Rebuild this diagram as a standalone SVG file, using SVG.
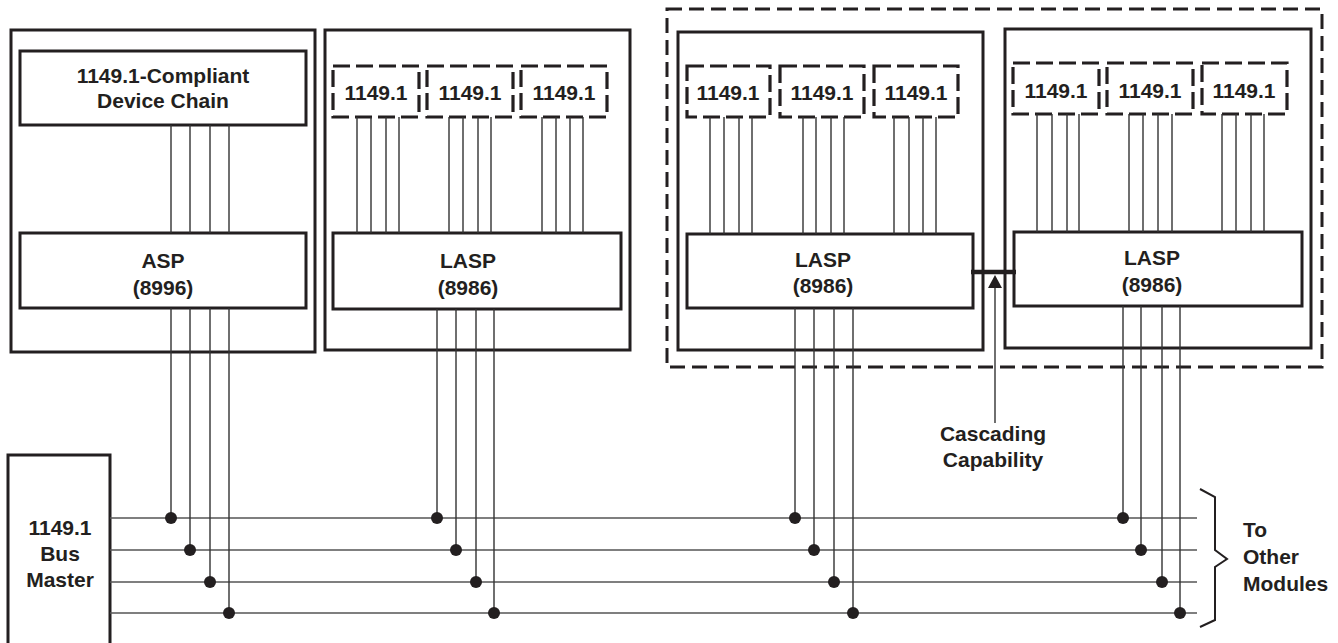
<svg xmlns="http://www.w3.org/2000/svg" width="1338" height="643" viewBox="0 0 1338 643">
<style>
.box{fill:none;stroke:#231f20;stroke-width:3}
.ibox{fill:#fff;stroke:#231f20;stroke-width:3}
.dbox{fill:none;stroke:#231f20;stroke-width:3.2;stroke-dasharray:17 6}
.odash{fill:none;stroke:#231f20;stroke-width:3;stroke-dasharray:15 7}
.w{stroke:#333;stroke-width:1.4;fill:none}
.bus{stroke:#555;stroke-width:1.6;fill:none}
.dot{fill:#231f20}
text{font-family:"Liberation Sans",Arial,sans-serif;font-weight:bold;font-size:21px;fill:#231f20;text-anchor:middle}
.l{text-anchor:start}
</style>
<rect width="1338" height="643" fill="#fff"/>

<g id="cascade-group">
<rect class="odash" x="667" y="9" width="655" height="358"/>
</g>

<g id="module1">
<rect class="box" x="11" y="30" width="304" height="322"/>
<g id="device-chain">
<rect class="ibox" x="20" y="51" width="286" height="74"/>
<text x="163" y="83">1149.1-Compliant</text>
<text x="163" y="108">Device Chain</text>
</g>
<g id="asp">
<rect class="ibox" x="20" y="233" width="286" height="75"/>
<text x="163" y="268">ASP</text>
<text x="163" y="295">(8996)</text>
</g>
</g>

<g id="module2">
<rect class="box" x="325" y="30" width="305" height="320"/>
<g id="m2-d1"><rect class="dbox" x="333" y="66" width="86" height="51"/><text x="376" y="100">1149.1</text></g>
<g id="m2-d2"><rect class="dbox" x="427" y="66" width="86" height="51"/><text x="470" y="100">1149.1</text></g>
<g id="m2-d3"><rect class="dbox" x="521" y="66" width="86" height="51"/><text x="564" y="100">1149.1</text></g>
<g id="m2-lasp">
<rect class="ibox" x="333" y="233" width="288" height="76"/>
<text x="468" y="268">LASP</text>
<text x="468" y="295">(8986)</text>
</g>
</g>

<g id="module3">
<rect class="box" x="678" y="32" width="305" height="318"/>
<g id="m3-d1"><rect class="dbox" x="687" y="66" width="83" height="51"/><text x="728" y="100">1149.1</text></g>
<g id="m3-d2"><rect class="dbox" x="780" y="66" width="84" height="51"/><text x="822" y="100">1149.1</text></g>
<g id="m3-d3"><rect class="dbox" x="874" y="66" width="84" height="51"/><text x="916" y="100">1149.1</text></g>
<g id="m3-lasp">
<rect class="ibox" x="687" y="234" width="286" height="74"/>
<text x="823" y="267">LASP</text>
<text x="823" y="293">(8986)</text>
</g>
</g>

<g id="module4">
<rect class="box" x="1005" y="29" width="306" height="319"/>
<g id="m4-d1"><rect class="dbox" x="1013" y="63" width="86" height="51"/><text x="1056" y="98">1149.1</text></g>
<g id="m4-d2"><rect class="dbox" x="1107" y="63" width="86" height="51"/><text x="1150" y="98">1149.1</text></g>
<g id="m4-d3"><rect class="dbox" x="1202" y="63" width="85" height="51"/><text x="1244" y="98">1149.1</text></g>
<g id="m4-lasp">
<rect class="ibox" x="1014" y="232" width="288" height="74"/>
<text x="1152" y="265">LASP</text>
<text x="1152" y="292">(8986)</text>
</g>
</g>

<g id="bus-master">
<path class="box" d="M8,650 V455 H110 V650"/>
<text x="60" y="535">1149.1</text>
<text x="60" y="561">Bus</text>
<text x="60" y="587">Master</text>
</g>

<g id="cascading-label">
<text x="993" y="441">Cascading</text>
<text x="993" y="467">Capability</text>
</g>

<g id="other-modules">
<path d="M1200,489 L1215,497 V550 L1227,559 L1215,567 V620 L1200,627" fill="none" stroke="#231f20" stroke-width="2"/>
<text class="l" x="1243" y="537">To</text>
<text class="l" x="1243" y="564">Other</text>
<text class="l" x="1243" y="591">Modules</text>
</g>

<g id="connectors">
<path class="w" d="M171,125V233M190,125V233M210,125V233M229,125V233"/>
<path class="w" d="M357,117V233M371,117V233M386,117V233M399,117V233M449,117V233M463,117V233M478,117V233M491,117V233M542,117V233M556,117V233M570,117V233M583,117V233"/>
<path class="w" d="M710,117V234M724,117V234M739,117V234M752,117V234M803,117V234M816,117V234M831,117V234M844,117V234M894,117V234M909,117V234M923,117V234M936,117V234"/>
<path class="w" d="M1037,114V232M1052,114V232M1067,114V232M1079,114V232M1129,114V232M1143,114V232M1158,114V232M1172,114V232M1222,114V232M1236,114V232M1251,114V232M1264,114V232"/>
<path class="bus" d="M110,518H1197M110,550H1197M110,582H1197M110,613H1197"/>
<path class="w" d="M171,308V518M190,308V550M210,308V582M229,308V613"/>
<path class="w" d="M437,309V518M456,309V550M476,309V582M494,309V613"/>
<path class="w" d="M795,308V518M814,308V550M834,308V582M853,308V613"/>
<path class="w" d="M1123,306V518M1141,306V550M1162,306V582M1180,306V613"/>
<g class="dot">
<circle cx="171" cy="518" r="6"/><circle cx="190" cy="550" r="6"/><circle cx="210" cy="582" r="6"/><circle cx="229" cy="613" r="6"/>
<circle cx="437" cy="518" r="6"/><circle cx="456" cy="550" r="6"/><circle cx="476" cy="582" r="6"/><circle cx="494" cy="613" r="6"/>
<circle cx="795" cy="518" r="6"/><circle cx="814" cy="550" r="6"/><circle cx="834" cy="582" r="6"/><circle cx="853" cy="613" r="6"/>
<circle cx="1123" cy="518" r="6"/><circle cx="1141" cy="550" r="6"/><circle cx="1162" cy="582" r="6"/><circle cx="1180" cy="613" r="6"/>
</g>
<path d="M971,272H1016" stroke="#231f20" stroke-width="4.5" fill="none"/>
<path class="w" d="M995,288V423" stroke="#555"/>
<path d="M995,275L988,288H1002Z" fill="#231f20"/>
</g>
</svg>
